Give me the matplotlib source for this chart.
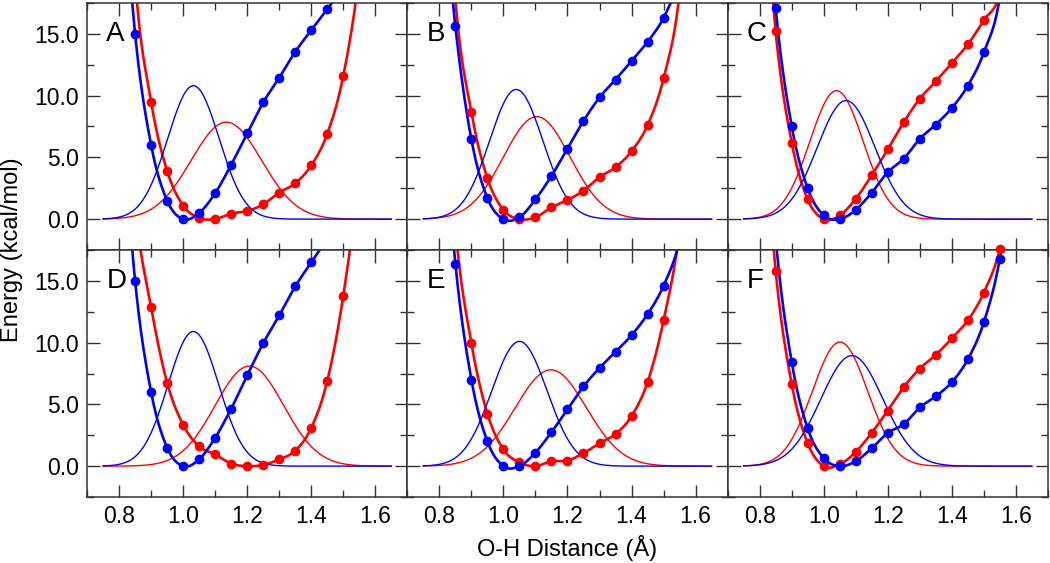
import numpy as np
import matplotlib
matplotlib.use("Agg")
import matplotlib.pyplot as plt
from matplotlib.ticker import MultipleLocator, FormatStrFormatter

plt.rcParams['font.family'] = ['Liberation Sans', 'DejaVu Sans']

# O-H distance grid of the scan points (Angstrom)
dist = [0.80, 0.85, 0.90, 0.95, 1.00, 1.05, 1.10, 1.15, 1.20,
        1.25, 1.30, 1.35, 1.40, 1.45, 1.50, 1.55, 1.60]

# potential energy curves (kcal/mol), values above 17.5 are off the chart
a_blue = [32, 15.0, 6.0, 1.5, 0.0, 0.5, 2.1, 4.4, 6.95, 9.45, 11.45, 13.55, 15.3, 17.0, 18.8, 21, 24]
a_red = [45, 19.5, 9.5, 3.9, 1.1, 0.1, 0.0, 0.45, 0.65, 1.2, 2.15, 2.9, 4.35, 6.9, 11.6, 20.0, 35]
b_blue = [30, 15.6, 6.45, 1.7, 0.0, 0.15, 1.6, 3.5, 5.7, 7.95, 9.85, 11.3, 12.8, 14.35, 16.3, 19.5, 25]
b_red = [40, 17.8, 8.65, 3.3, 0.75, 0.0, 0.15, 0.95, 1.55, 2.3, 3.4, 4.2, 5.5, 7.6, 11.4, 18.3, 35]
c_blue = [35, 17.1, 7.55, 2.5, 0.3, 0.0, 0.75, 2.15, 3.8, 4.9, 6.5, 7.65, 9.0, 10.8, 13.5, 18.0, 30]
c_red = [33, 15.2, 6.2, 1.6, 0.0, 0.3, 1.65, 3.55, 5.65, 7.85, 9.75, 11.15, 12.65, 14.15, 16.1, 18.2, 25]
d_blue = [32, 15.0, 6.0, 1.5, 0.0, 0.55, 2.3, 4.65, 7.35, 9.95, 12.2, 14.55, 16.5, 18.4, 20.5, 23, 26]
d_red = [42, 21.4, 12.9, 6.75, 3.35, 1.6, 0.95, 0.2, 0.0, 0.1, 0.55, 1.25, 3.1, 6.9, 13.8, 24, 40]
e_blue = [33, 16.4, 7.0, 2.0, 0.0, 0.0, 1.1, 2.75, 4.6, 6.45, 7.95, 9.25, 10.6, 12.3, 14.6, 18.2, 25]
e_red = [40, 19.4, 9.95, 4.25, 1.35, 0.3, 0.0, 0.4, 0.45, 1.05, 1.85, 2.6, 4.05, 6.8, 11.8, 19.3, 35]
f_blue = [38, 18.5, 8.45, 3.05, 0.65, 0.0, 0.4, 1.45, 2.7, 3.4, 4.75, 5.65, 6.8, 8.65, 11.65, 16.8, 26]
f_red = [33, 15.8, 6.65, 1.85, 0.0, 0.15, 1.15, 2.7, 4.5, 6.4, 7.9, 9.0, 10.35, 11.8, 14.05, 17.55, 24]

panels = ["A", "B", "C", "D", "E", "F"]
blue_pes = [a_blue, b_blue, c_blue, d_blue, e_blue, f_blue]
red_pes = [a_red, b_red, c_red, d_red, e_red, f_red]

# ground state densities: centre (A), peak height, width (A)
blue_wf_center = [1.032, 1.040, 1.070, 1.032, 1.050, 1.088]
blue_wf_peak = [10.8, 10.5, 9.6, 10.9, 10.1, 8.95]
blue_wf_width = [0.080, 0.083, 0.090, 0.079, 0.086, 0.097]
red_wf_center = [1.135, 1.104, 1.040, 1.207, 1.148, 1.051]
red_wf_peak = [7.85, 8.3, 10.4, 8.1, 7.8, 10.05]
red_wf_width = [0.110, 0.104, 0.083, 0.107, 0.111, 0.086]


def smooth(x, y, n=20):
    # catmull-rom through the scan points
    x = np.asarray(x, float)
    y = np.asarray(y, float)
    py = np.concatenate([[2 * y[0] - y[1]], y, [2 * y[-1] - y[-2]]])
    t = np.linspace(0, 1, n, endpoint=False)
    xs, ys = [], []
    for i in range(len(x) - 1):
        p0, p1, p2, p3 = py[i], py[i + 1], py[i + 2], py[i + 3]
        ys.append(0.5 * (2 * p1 + (-p0 + p2) * t + (2 * p0 - 5 * p1 + 4 * p2 - p3) * t ** 2
                         + (-p0 + 3 * p1 - 3 * p2 + p3) * t ** 3))
        xs.append(x[i] + (x[i + 1] - x[i]) * t)
    xs.append([x[-1]])
    ys.append([y[-1]])
    return np.concatenate(xs), np.concatenate(ys)


fig = plt.figure(figsize=(10.5, 5.63), dpi=100)
axes = fig.subplots(2, 3, sharex=True, sharey=True)
fig.subplots_adjust(left=0.0829, right=0.998, top=0.9947, bottom=0.1172, wspace=0, hspace=0)

xg = np.linspace(0.75, 1.65, 400)
d = np.array(dist)

for k, ax in enumerate(axes.flat):
    for pes, c, wc, wp, ww in [
        (red_pes[k], "#ff0000", red_wf_center[k], red_wf_peak[k], red_wf_width[k]),
        (blue_pes[k], "#0000ff", blue_wf_center[k], blue_wf_peak[k], blue_wf_width[k]),
    ]:
        ax.plot(xg, wp * np.exp(-(xg - wc) ** 2 / (2 * ww ** 2)), color=c, lw=1.0)
        sx, sy = smooth(dist, pes)
        ax.plot(sx, sy, color=c, lw=1.9)
        e = np.array(pes)
        m = e <= 17.7
        ax.plot(d[m], e[m], "o", color=c, ms=6, clip_on=False, zorder=5)

    ax.text(0.06, 0.875, panels[k], transform=ax.transAxes, va="center", ha="left", fontsize=20)
    ax.set_xlim(0.7, 1.7)
    ax.set_ylim(-2.5, 17.5)
    ax.xaxis.set_major_locator(MultipleLocator(0.2))
    ax.xaxis.set_minor_locator(MultipleLocator(0.1))
    ax.yaxis.set_major_locator(MultipleLocator(5))
    ax.yaxis.set_minor_locator(MultipleLocator(2.5))
    ax.xaxis.set_major_formatter(FormatStrFormatter("%.1f"))
    ax.yaxis.set_major_formatter(FormatStrFormatter("%.1f"))
    ax.tick_params(which="both", direction="in", top=True, right=True, width=1.0, color="#333333")
    ax.tick_params(which="major", length=9, labelsize=16.5, pad=6)
    ax.tick_params(which="minor", length=5)
    for s in ax.spines.values():
        s.set_linewidth(1.1)
        s.set_color("#333333")

fig.text(0.0115, 0.556, "Energy (kcal/mol)", rotation=90, va="center", ha="center", fontsize=17)
fig.text(0.54, 0.027, "O-H Distance (\u00c5)", va="center", ha="center", fontsize=17)

fig.savefig("out.png", dpi=100)
